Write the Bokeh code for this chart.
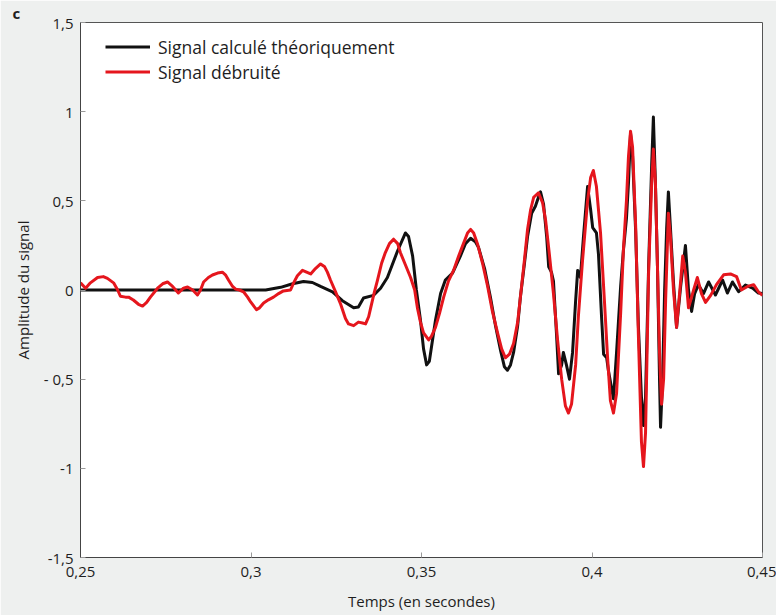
from bokeh.plotting import figure
from bokeh.models import (Range1d, FixedTicker, CustomJSTickFormatter,
                          Legend, LegendItem, Title)
from bokeh.embed import file_html
from bokeh.resources import INLINE

# ---- data (time in seconds, amplitude) ----
black_t = [0.2500, 0.2800, 0.3043, 0.3087, 0.3122, 0.3154, 0.3180, 0.3204, 0.3239, 0.3268,
           0.3301, 0.3315, 0.3330, 0.3359, 0.3380, 0.3400, 0.3430, 0.3453, 0.3462, 0.3474,
           0.3485, 0.3497, 0.3506, 0.3515, 0.3523, 0.3541, 0.3556, 0.3570, 0.3591, 0.3614,
           0.3629, 0.3644, 0.3658, 0.3667, 0.3685, 0.3702, 0.3717, 0.3732, 0.3743, 0.3752,
           0.3761, 0.3770, 0.3782, 0.3790, 0.3802, 0.3811, 0.3823, 0.3834, 0.3843, 0.3849,
           0.3858, 0.3867, 0.3873, 0.3881, 0.3887, 0.3896, 0.3902, 0.3911, 0.3916, 0.3925,
           0.3934, 0.3943, 0.3952, 0.3958, 0.3966, 0.3975, 0.3987, 0.3996, 0.4002, 0.4013,
           0.4019, 0.4028, 0.4034, 0.4043, 0.4048, 0.4063, 0.4072, 0.4084, 0.4092, 0.4101,
           0.4107, 0.4113, 0.4119, 0.4128, 0.4136, 0.4145, 0.4151, 0.4157, 0.4166, 0.4175,
           0.4180, 0.4186, 0.4192, 0.4198, 0.4201, 0.4207, 0.4213, 0.4219, 0.4224, 0.4230,
           0.4239, 0.4248, 0.4260, 0.4274, 0.4283, 0.4292, 0.4301, 0.4312, 0.4327, 0.4342,
           0.4362, 0.4383, 0.4397, 0.4412, 0.4430, 0.4450, 0.4471, 0.4488, 0.4500]
black_y = [0.0, 0.0, 0.0, 0.015, 0.035, 0.048, 0.042, 0.02, -0.01, -0.06,
           -0.10, -0.095, -0.045, -0.03, 0.01, 0.07, 0.22, 0.32, 0.30, 0.19,
           0.0, -0.17, -0.33, -0.42, -0.40, -0.17, -0.02, 0.056, 0.095, 0.19,
           0.26, 0.29, 0.27, 0.24, 0.12, -0.04, -0.20, -0.34, -0.43, -0.45,
           -0.42, -0.35, -0.20, -0.04, 0.15, 0.30, 0.43, 0.47, 0.52, 0.55,
           0.48, 0.30, 0.13, 0.10, 0.05, -0.25, -0.47, -0.42, -0.35, -0.42,
           -0.50, -0.35, -0.06, 0.11, 0.07, 0.30, 0.58, 0.45, 0.35, 0.32,
           0.20, -0.15, -0.36, -0.38, -0.45, -0.61, -0.35, 0.02, 0.22, 0.40,
           0.60, 0.88, 0.75, 0.33, -0.20, -0.60, -0.76, -0.60, 0.13, 0.70,
           0.97, 0.60, 0.13, -0.50, -0.77, -0.50, 0.0, 0.35, 0.55, 0.35,
           0.04, -0.21, 0.02, 0.25, 0.0, -0.12, -0.02, 0.03, -0.02, 0.045,
           -0.028, 0.056, -0.017, 0.045, -0.01, 0.028, 0.01, -0.017, -0.02]

red_t = [0.2500, 0.2515, 0.2529, 0.2550, 0.2567, 0.2579, 0.2597, 0.2609, 0.2617, 0.2632,
         0.2641, 0.2655, 0.2670, 0.2682, 0.2694, 0.2705, 0.2726, 0.2741, 0.2755, 0.2770,
         0.2787, 0.2802, 0.2814, 0.2829, 0.2843, 0.2852, 0.2861, 0.2875, 0.2887, 0.2902,
         0.2916, 0.2925, 0.2934, 0.2946, 0.2955, 0.2966, 0.2978, 0.2990, 0.2999, 0.3016,
         0.3025, 0.3037, 0.3051, 0.3066, 0.3081, 0.3095, 0.3116, 0.3125, 0.3136, 0.3151,
         0.3163, 0.3175, 0.3189, 0.3204, 0.3216, 0.3224, 0.3233, 0.3248, 0.3263, 0.3277,
         0.3286, 0.3301, 0.3315, 0.3327, 0.3336, 0.3345, 0.3351, 0.3362, 0.3371, 0.3383,
         0.3394, 0.3406, 0.3418, 0.3430, 0.3438, 0.3453, 0.3468, 0.3480, 0.3488, 0.3497,
         0.3506, 0.3521, 0.3529, 0.3541, 0.3553, 0.3565, 0.3579, 0.3594, 0.3609, 0.3623,
         0.3635, 0.3644, 0.3653, 0.3664, 0.3679, 0.3694, 0.3708, 0.3723, 0.3735, 0.3746,
         0.3758, 0.3770, 0.3782, 0.3790, 0.3802, 0.3811, 0.3820, 0.3829, 0.3843, 0.3855,
         0.3864, 0.3875, 0.3887, 0.3899, 0.3911, 0.3922, 0.3931, 0.3940, 0.3952, 0.3960,
         0.3972, 0.3987, 0.3996, 0.4004, 0.4013, 0.4025, 0.4037, 0.4046, 0.4054, 0.4063,
         0.4072, 0.4084, 0.4092, 0.4101, 0.4107, 0.4113, 0.4119, 0.4128, 0.4136, 0.4145,
         0.4151, 0.4157, 0.4166, 0.4175, 0.4180, 0.4186, 0.4192, 0.4198, 0.4204, 0.4210,
         0.4216, 0.4224, 0.4230, 0.4239, 0.4248, 0.4260, 0.4266, 0.4274, 0.4283, 0.4298,
         0.4309, 0.4321, 0.4333, 0.4348, 0.4365, 0.4386, 0.4406, 0.4424, 0.4438, 0.4456,
         0.4474, 0.4488, 0.4500]
red_y = [0.04, 0.01, 0.04, 0.07, 0.075, 0.065, 0.04, 0.0, -0.035, -0.04,
         -0.04, -0.056, -0.08, -0.09, -0.07, -0.04, 0.01, 0.035, 0.045, 0.02,
         -0.017, 0.01, 0.017, 0.0, -0.028, 0.0, 0.045, 0.07, 0.084, 0.095,
         0.10, 0.085, 0.056, 0.02, 0.005, 0.0, -0.01, -0.04, -0.067, -0.11,
         -0.10, -0.073, -0.055, -0.04, -0.02, -0.005, 0.0, 0.04, 0.08, 0.11,
         0.10, 0.09, 0.12, 0.146, 0.13, 0.10, 0.056, -0.01, -0.08, -0.16,
         -0.19, -0.20, -0.18, -0.185, -0.19, -0.15, -0.10, -0.01, 0.056, 0.15,
         0.21, 0.26, 0.285, 0.26, 0.21, 0.14, 0.07, 0.0, -0.10, -0.18,
         -0.24, -0.28, -0.26, -0.21, -0.13, -0.04, 0.05, 0.11, 0.19, 0.26,
         0.32, 0.34, 0.32, 0.26, 0.15, 0.02, -0.12, -0.24, -0.33, -0.38,
         -0.36, -0.30, -0.18, -0.04, 0.17, 0.34, 0.45, 0.52, 0.545, 0.49,
         0.39, 0.20, -0.02, -0.28, -0.50, -0.65, -0.69, -0.64, -0.42, -0.15,
         0.16, 0.50, 0.63, 0.67, 0.58, 0.32, -0.08, -0.39, -0.62, -0.69,
         -0.58, -0.13, 0.22, 0.50, 0.75, 0.89, 0.80, 0.36, -0.25, -0.85,
         -0.99, -0.80, 0.10, 0.60, 0.79, 0.60, 0.13, -0.35, -0.64, -0.50,
         -0.05, 0.43, 0.30, 0.0, -0.21, 0.05, 0.19, 0.10, -0.10, 0.0,
         0.07, -0.02, -0.07, -0.03, 0.03, 0.085, 0.09, 0.075, 0.0, 0.02,
         0.03, -0.01, -0.03]

x_ticks = [0.25, 0.3, 0.35, 0.4, 0.45]
y_ticks = [-1.5, -1.0, -0.5, 0.0, 0.5, 1.0, 1.5]
series_labels = ["Signal calculé théoriquement", "Signal débruité"]
x_title = "Temps (en secondes)"
y_title = "Amplitude du signal"
panel_letter = "c"

FONT = "Open Sans"
TXT = "#1e1e1e"
BG = "#eef0ef"

p = figure(width=776, height=615, output_backend="svg", toolbar_location=None,
           x_range=Range1d(0.25, 0.45), y_range=Range1d(-1.5, 1.5),
           min_border_left=80, min_border_right=14, min_border_top=22, min_border_bottom=58)
p.border_fill_color = BG
p.background_fill_color = "white"
p.outline_line_color = "#555555"
p.outline_line_width = 1
p.grid.visible = False

# panel letter as a left-shifted title
p.title = Title(text=panel_letter, align="left", offset=-68, standoff=0,
                vertical_align="bottom",
                text_font=FONT, text_font_size="15px", text_font_style="bold",
                text_color=TXT)

fmt = CustomJSTickFormatter(code="""
let s = String(Math.round(tick*100)/100).replace('.', ',');
if (s == '-0,5') { s = '- 0,5'; }
return s;
""")

for ax in p.xaxis + p.yaxis:
    ax.major_label_text_font = FONT
    ax.major_label_text_font_size = "15px"
    ax.major_label_text_color = TXT
    ax.axis_label_text_font = FONT
    ax.axis_label_text_font_size = "15px"
    ax.axis_label_text_font_style = "normal"
    ax.axis_label_text_color = TXT
    ax.axis_line_color = "#444444"
    ax.major_tick_in = 5
    ax.major_tick_out = 0
    ax.major_tick_line_color = "#9a9a9a"
    ax.minor_tick_line_color = None
    ax.formatter = fmt

p.xaxis.ticker = FixedTicker(ticks=x_ticks)
p.yaxis.ticker = FixedTicker(ticks=y_ticks)
p.xaxis.axis_label = x_title
p.yaxis.axis_label = y_title
p.xaxis.major_label_standoff = 9
p.xaxis.axis_label_standoff = 11
p.yaxis.major_label_standoff = 7
p.yaxis.axis_label_standoff = 8

r_black = p.line(black_t, black_y, line_color="#111111", line_width=3, line_join="round")
r_red = p.line(red_t, red_y, line_color="#e5161d", line_width=3, line_join="round")

legend = Legend(items=[LegendItem(label=series_labels[0], renderers=[r_black]),
                       LegendItem(label=series_labels[1], renderers=[r_red])],
                location=(25, 473), padding=0, margin=0, spacing=0,
                glyph_width=45, glyph_height=25, label_height=25, label_standoff=8,
                label_text_font=FONT, label_text_font_size="17.5px", label_text_color=TXT,
                border_line_alpha=0, background_fill_alpha=0)
p.add_layout(legend)

open("out.html", "w").write(file_html(p, INLINE))
